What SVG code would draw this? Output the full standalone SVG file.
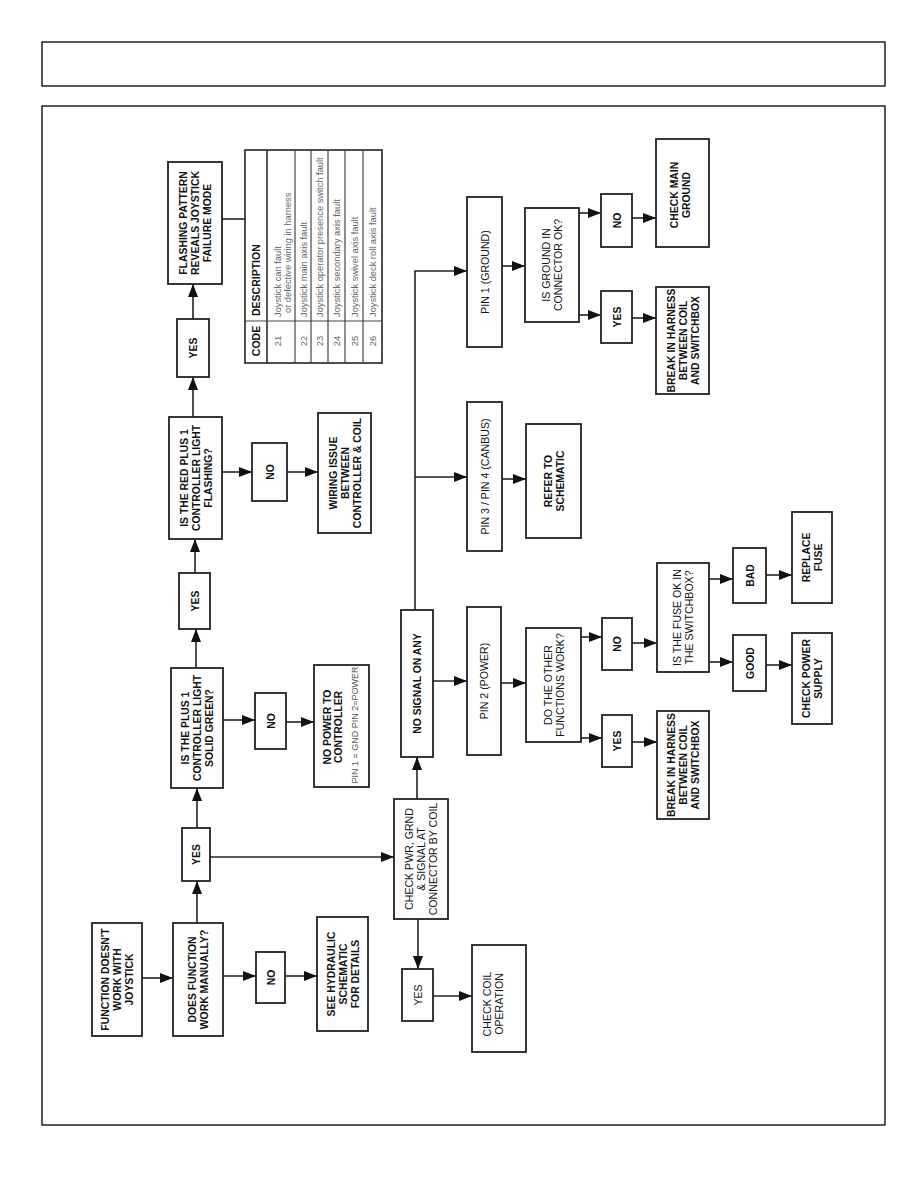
<svg xmlns="http://www.w3.org/2000/svg" width="918" height="1188" viewBox="0 0 918 1188">
<style>
.frame{fill:none;stroke:#000;stroke-width:1.3}
.box{fill:#fff;stroke:#222;stroke-width:1.8}
.c{fill:none;stroke:#222;stroke-width:1.6}
text{font-family:"Liberation Sans",Arial,sans-serif;fill:#111}
.b{font-size:10.4px;font-weight:bold;text-anchor:middle}
.r{font-size:10.6px;font-weight:normal;text-anchor:middle}
.s{font-size:9px;fill:#555;text-anchor:middle}
.th{font-size:10.5px;font-weight:bold}
.td{font-size:9.3px;fill:#666}
.tl{stroke:#444;stroke-width:1.2;fill:none}
</style>
<defs>
<marker id="ah" markerWidth="13" markerHeight="10" refX="13" refY="5" orient="auto" markerUnits="userSpaceOnUse">
<path d="M0,0 L13,5 L0,10 z" fill="#111"/>
</marker>
</defs>
<rect class="frame" x="42" y="42" width="843" height="44"/>
<rect class="frame" x="42" y="106" width="843" height="1019"/>

<g id="connectors">
<line class="c" x1="142" y1="978" x2="173" y2="978" marker-end="url(#ah)"/>
<line class="c" x1="223" y1="976" x2="256" y2="976" marker-end="url(#ah)"/>
<line class="c" x1="285" y1="976" x2="317" y2="976" marker-end="url(#ah)"/>
<line class="c" x1="197" y1="923" x2="197" y2="881" marker-end="url(#ah)"/>
<line class="c" x1="197" y1="828" x2="197" y2="788" marker-end="url(#ah)"/>
<line class="c" x1="210" y1="857" x2="394" y2="857" marker-end="url(#ah)"/>
<line class="c" x1="223" y1="720" x2="255" y2="720" marker-end="url(#ah)"/>
<line class="c" x1="286" y1="722" x2="314" y2="722" marker-end="url(#ah)"/>
<line class="c" x1="196" y1="668" x2="196" y2="629" marker-end="url(#ah)"/>
<line class="c" x1="195" y1="573" x2="195" y2="539" marker-end="url(#ah)"/>
<line class="c" x1="222" y1="472" x2="252" y2="472" marker-end="url(#ah)"/>
<line class="c" x1="287" y1="472" x2="318" y2="472" marker-end="url(#ah)"/>
<line class="c" x1="193" y1="417" x2="193" y2="377" marker-end="url(#ah)"/>
<line class="c" x1="193" y1="319" x2="193" y2="284" marker-end="url(#ah)"/>
<line class="c" x1="222" y1="219" x2="245" y2="219"/>
<line class="c" x1="417" y1="799" x2="417" y2="757" marker-end="url(#ah)"/>
<line class="c" x1="418" y1="919" x2="418" y2="969" marker-end="url(#ah)"/>
<line class="c" x1="433" y1="996" x2="472" y2="996" marker-end="url(#ah)"/>
<line class="c" x1="433" y1="681" x2="467" y2="681" marker-end="url(#ah)"/>
<path class="c" d="M415,610 V271 H467" marker-end="url(#ah)"/>
<line class="c" x1="415" y1="477" x2="467" y2="477" marker-end="url(#ah)"/>
<line class="c" x1="502" y1="266" x2="525" y2="266" marker-end="url(#ah)"/>
<line class="c" x1="579" y1="213" x2="601" y2="213" marker-end="url(#ah)"/>
<line class="c" x1="579" y1="315" x2="601" y2="315" marker-end="url(#ah)"/>
<line class="c" x1="632" y1="218" x2="656" y2="218" marker-end="url(#ah)"/>
<line class="c" x1="632" y1="318" x2="656" y2="318" marker-end="url(#ah)"/>
<line class="c" x1="502" y1="479" x2="526" y2="479" marker-end="url(#ah)"/>
<line class="c" x1="501" y1="683" x2="526" y2="683" marker-end="url(#ah)"/>
<line class="c" x1="581" y1="637" x2="602" y2="637" marker-end="url(#ah)"/>
<line class="c" x1="581" y1="738" x2="602" y2="738" marker-end="url(#ah)"/>
<line class="c" x1="632" y1="643" x2="657" y2="643" marker-end="url(#ah)"/>
<line class="c" x1="632" y1="742" x2="657" y2="742" marker-end="url(#ah)"/>
<line class="c" x1="709" y1="579" x2="733" y2="579" marker-end="url(#ah)"/>
<line class="c" x1="709" y1="662" x2="733" y2="662" marker-end="url(#ah)"/>
<line class="c" x1="766" y1="575" x2="792" y2="575" marker-end="url(#ah)"/>
<line class="c" x1="766" y1="665" x2="792" y2="665" marker-end="url(#ah)"/>
</g>

<g id="n1"><rect class="box" x="92" y="923" width="50" height="113"/>
<text class="b" transform="translate(117,979.5) rotate(-90)"><tspan x="0" y="-8">FUNCTION DOESN'T</tspan><tspan x="0" y="4">WORK WITH</tspan><tspan x="0" y="16">JOYSTICK</tspan></text></g>
<g id="n2"><rect class="box" x="173" y="923" width="50" height="113"/>
<text class="b" transform="translate(198,979.5) rotate(-90)"><tspan x="0" y="-2">DOES FUNCTION</tspan><tspan x="0" y="10">WORK MANUALLY?</tspan></text></g>
<g id="n3"><rect class="box" x="256" y="952" width="29" height="51"/>
<text class="b" transform="translate(270.5,977.5) rotate(-90)"><tspan x="0" y="4">NO</tspan></text></g>
<g id="n4"><rect class="box" x="182" y="828" width="28" height="53"/>
<text class="b" transform="translate(196,854.5) rotate(-90)"><tspan x="0" y="4">YES</tspan></text></g>
<g id="n5"><rect class="box" x="317" y="917" width="51" height="114"/>
<text class="b" transform="translate(342.5,974) rotate(-90)"><tspan x="0" y="-8">SEE HYDRAULIC</tspan><tspan x="0" y="4">SCHEMATIC</tspan><tspan x="0" y="16">FOR DETAILS</tspan></text></g>

<g id="n6"><rect class="box" x="171" y="668" width="52" height="120"/>
<text class="b" transform="translate(197,728) rotate(-90)"><tspan x="0" y="-8">IS THE PLUS 1</tspan><tspan x="0" y="4">CONTROLLER LIGHT</tspan><tspan x="0" y="16">SOLID GREEN?</tspan></text></g>
<g id="n7"><rect class="box" x="255" y="693" width="31" height="56"/>
<text class="b" transform="translate(270.5,721) rotate(-90)"><tspan x="0" y="4">NO</tspan></text></g>
<g id="n8"><rect class="box" x="314" y="665" width="55" height="122"/>
<text class="b" transform="translate(336,727) rotate(-90)"><tspan x="0" y="-5">NO POWER TO</tspan><tspan x="0" y="6">CONTROLLER</tspan></text>
<text class="s" transform="translate(336,725) rotate(-90)"><tspan x="0" y="22">PIN 1 = GND PIN 2=POWER</tspan></text></g>
<g id="n9"><rect class="box" x="179" y="573" width="31" height="56"/>
<text class="b" transform="translate(194.5,601) rotate(-90)"><tspan x="0" y="4">YES</tspan></text></g>

<g id="n10"><rect class="box" x="169" y="417" width="53" height="122"/>
<text class="b" transform="translate(195.5,478) rotate(-90)"><tspan x="0" y="-8">IS THE RED PLUS 1</tspan><tspan x="0" y="4">CONTROLLER LIGHT</tspan><tspan x="0" y="16">FLASHING?</tspan></text></g>
<g id="n11"><rect class="box" x="252" y="443" width="35" height="58"/>
<text class="b" transform="translate(269.5,472) rotate(-90)"><tspan x="0" y="4">NO</tspan></text></g>
<g id="n12"><rect class="box" x="318" y="413" width="53" height="120"/>
<text class="b" transform="translate(344.5,473) rotate(-90)"><tspan x="0" y="-8">WIRING ISSUE</tspan><tspan x="0" y="4">BETWEEN</tspan><tspan x="0" y="16">CONTROLLER &amp; COIL</tspan></text></g>
<g id="n13"><rect class="box" x="177" y="319" width="32" height="58"/>
<text class="b" transform="translate(193,348) rotate(-90)"><tspan x="0" y="4">YES</tspan></text></g>
<g id="n14"><rect class="box" x="168" y="162" width="54" height="122"/>
<text class="b" transform="translate(195,223) rotate(-90)"><tspan x="0" y="-8">FLASHING PATTERN</tspan><tspan x="0" y="4">REVEALS JOYSTICK</tspan><tspan x="0" y="16">FAILURE MODE</tspan></text></g>

<g id="table">
<rect class="tl" x="245" y="150" width="137" height="213" style="stroke:#222;stroke-width:1.6"/>
<line class="tl" x1="267" y1="150" x2="267" y2="363" style="stroke:#222;stroke-width:1.5"/>
<line class="tl" x1="295" y1="150" x2="295" y2="363"/>
<line class="tl" x1="311" y1="150" x2="311" y2="363"/>
<line class="tl" x1="328" y1="150" x2="328" y2="363"/>
<line class="tl" x1="345" y1="150" x2="345" y2="363"/>
<line class="tl" x1="363" y1="150" x2="363" y2="363"/>
<line class="tl" x1="245" y1="321" x2="382" y2="321"/>
<text class="th" text-anchor="middle" transform="translate(260,341) rotate(-90)">CODE</text>
<text class="th" transform="translate(260,316) rotate(-90)">DESCRIPTION</text>
<text class="td" text-anchor="middle" transform="translate(280.5,341) rotate(-90)">21</text>
<text class="td" transform="translate(281,317) rotate(-90)">Joystick can fault</text>
<text class="td" transform="translate(290.5,313) rotate(-90)">or defective wiring in harness</text>
<text class="td" text-anchor="middle" transform="translate(306.5,341) rotate(-90)">22</text>
<text class="td" transform="translate(306.5,317) rotate(-90)">Joystick main axis fault</text>
<text class="td" text-anchor="middle" transform="translate(323,341) rotate(-90)">23</text>
<text class="td" transform="translate(323,317) rotate(-90)">Joystick operator presence switch fault</text>
<text class="td" text-anchor="middle" transform="translate(340,341) rotate(-90)">24</text>
<text class="td" transform="translate(340,317) rotate(-90)">Joystick secondary axis fault</text>
<text class="td" text-anchor="middle" transform="translate(357.5,341) rotate(-90)">25</text>
<text class="td" transform="translate(357.5,317) rotate(-90)">Joystick swivel axis fault</text>
<text class="td" text-anchor="middle" transform="translate(376,341) rotate(-90)">26</text>
<text class="td" transform="translate(376,317) rotate(-90)">Joystick deck roll axis fault</text>
</g>

<g id="n15"><rect class="box" x="394" y="799" width="54" height="120"/>
<text class="r" transform="translate(421,859) rotate(-90)"><tspan x="0" y="-8">CHECK PWR, GRND</tspan><tspan x="0" y="4">&amp; SIGNAL AT</tspan><tspan x="0" y="16">CONNECTOR BY COIL</tspan></text></g>
<g id="n16"><rect class="box" x="401" y="610" width="32" height="147"/>
<text class="b" transform="translate(417,683.5) rotate(-90)"><tspan x="0" y="4">NO SIGNAL ON ANY</tspan></text></g>
<g id="n17"><rect class="box" x="402" y="969" width="31" height="52"/>
<text class="r" transform="translate(417.5,995) rotate(-90)"><tspan x="0" y="4">YES</tspan></text></g>
<g id="n18"><rect class="box" x="472" y="945" width="54" height="107"/>
<text class="r" transform="translate(493,1004) rotate(-90)"><tspan x="0" y="-2">CHECK COIL</tspan><tspan x="0" y="10">OPERATION</tspan></text></g>

<g id="n19"><rect class="box" x="467" y="607" width="34" height="148"/>
<text class="r" transform="translate(484,681) rotate(-90)"><tspan x="0" y="4">PIN 2 (POWER)</tspan></text></g>
<g id="n20"><rect class="box" x="467" y="197" width="35" height="150"/>
<text class="r" transform="translate(484.5,272) rotate(-90)"><tspan x="0" y="4">PIN 1 (GROUND)</tspan></text></g>
<g id="n21"><rect class="box" x="525" y="208" width="54" height="114"/>
<text class="r" transform="translate(552,265) rotate(-90)"><tspan x="0" y="-2">IS GROUND IN</tspan><tspan x="0" y="10">CONNECTOR OK?</tspan></text></g>
<g id="n22"><rect class="box" x="601" y="194" width="31" height="53"/>
<text class="b" transform="translate(616.5,220.5) rotate(-90)"><tspan x="0" y="4">NO</tspan></text></g>
<g id="n23"><rect class="box" x="601" y="291" width="31" height="52"/>
<text class="b" transform="translate(616.5,317) rotate(-90)"><tspan x="0" y="4">YES</tspan></text></g>
<g id="n24"><rect class="box" x="656" y="139" width="53" height="108"/>
<text class="b" transform="translate(680,195) rotate(-90)"><tspan x="0" y="-2">CHECK MAIN</tspan><tspan x="0" y="10">GROUND</tspan></text></g>
<g id="n25"><rect class="box" x="656" y="287" width="53" height="107"/>
<text class="b" transform="translate(682.5,340.5) rotate(-90)"><tspan x="0" y="-8">BREAK IN HARNESS</tspan><tspan x="0" y="4">BETWEEN COIL</tspan><tspan x="0" y="16">AND SWITCHBOX</tspan></text></g>

<g id="n26"><rect class="box" x="467" y="402" width="35" height="149"/>
<text class="r" transform="translate(484.5,476.5) rotate(-90)"><tspan x="0" y="4">PIN 3 / PIN 4 (CANBUS)</tspan></text></g>
<g id="n27"><rect class="box" x="526" y="424" width="55" height="114"/>
<text class="b" transform="translate(553.5,481) rotate(-90)"><tspan x="0" y="-2">REFER TO</tspan><tspan x="0" y="10">SCHEMATIC</tspan></text></g>
<g id="n28"><rect class="box" x="526" y="628" width="55" height="114"/>
<text class="r" transform="translate(553.5,685) rotate(-90)"><tspan x="0" y="-2">DO THE OTHER</tspan><tspan x="0" y="10">FUNCTIONS WORK?</tspan></text></g>
<g id="n29"><rect class="box" x="602" y="618" width="30" height="52"/>
<text class="b" transform="translate(617,644) rotate(-90)"><tspan x="0" y="4">NO</tspan></text></g>
<g id="n30"><rect class="box" x="602" y="715" width="30" height="52"/>
<text class="b" transform="translate(617,741) rotate(-90)"><tspan x="0" y="4">YES</tspan></text></g>
<g id="n31"><rect class="box" x="657" y="563" width="52" height="109"/>
<text class="r" transform="translate(683,617.5) rotate(-90)"><tspan x="0" y="-2">IS THE FUSE OK IN</tspan><tspan x="0" y="10">THE SWITCHBOX?</tspan></text></g>
<g id="n32"><rect class="box" x="657" y="711" width="52" height="108"/>
<text class="b" transform="translate(683,765) rotate(-90)"><tspan x="0" y="-8">BREAK IN HARNESS</tspan><tspan x="0" y="4">BETWEEN COIL</tspan><tspan x="0" y="16">AND SWITCHBOX</tspan></text></g>
<g id="n33"><rect class="box" x="733" y="548" width="33" height="55"/>
<text class="b" transform="translate(749.5,575.5) rotate(-90)"><tspan x="0" y="4">BAD</tspan></text></g>
<g id="n34"><rect class="box" x="733" y="635" width="33" height="56"/>
<text class="b" transform="translate(749.5,663) rotate(-90)"><tspan x="0" y="4">GOOD</tspan></text></g>
<g id="n35"><rect class="box" x="792" y="512" width="40" height="91"/>
<text class="b" transform="translate(812,557.5) rotate(-90)"><tspan x="0" y="-2">REPLACE</tspan><tspan x="0" y="10">FUSE</tspan></text></g>
<g id="n36"><rect class="box" x="792" y="633" width="40" height="91"/>
<text class="b" transform="translate(812,678.5) rotate(-90)"><tspan x="0" y="-2">CHECK POWER</tspan><tspan x="0" y="10">SUPPLY</tspan></text></g>
</svg>
